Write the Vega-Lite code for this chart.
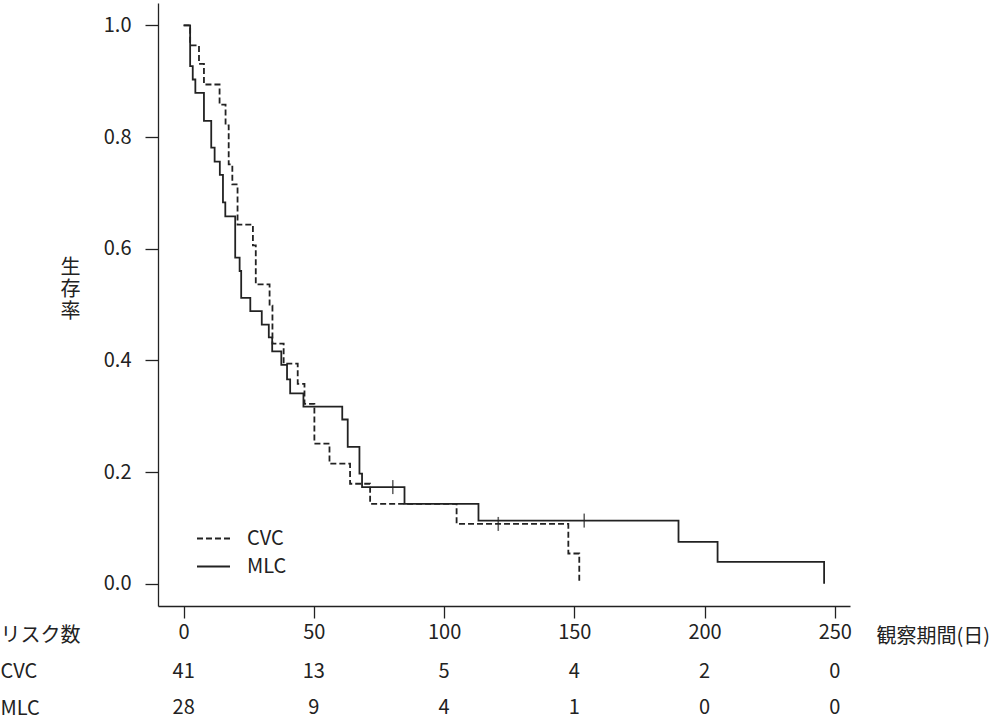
{
  "$schema": "https://vega.github.io/schema/vega-lite/v6.json",
  "width": 692,
  "height": 603,
  "autosize": "none",
  "padding": {"left": 158, "top": 3, "right": 150, "bottom": 116},
  "background": "white",
  "config": {
    "font": "Noto Sans CJK JP",
    "view": {"stroke": null},
    "axis": {
      "grid": false,
      "domainColor": "#222",
      "domainWidth": 1.3,
      "tickColor": "#222",
      "tickWidth": 1.3,
      "labelColor": "#222",
      "labelFont": "Noto Sans CJK JP",
      "labelFontSize": 20,
      "titleFont": "Noto Sans CJK JP",
      "titleFontSize": 20,
      "titleFontWeight": "normal",
      "titleColor": "#222"
    },
    "legend": {
      "orient": "none",
      "legendX": 38,
      "legendY": 518,
      "padding": 0,
      "symbolType": "stroke",
      "symbolSize": 1089,
      "symbolStrokeWidth": 2,
      "symbolStrokeColor": "#222",
      "labelFont": "Noto Sans CJK JP",
      "labelFontSize": 20,
      "labelColor": "#222",
      "labelOffset": 16,
      "rowPadding": -7
    }
  },
  "datasets": {
    "km": [
      {"group": "MLC", "time": 0, "surv": 1.0},
      {"group": "MLC", "time": 2.5, "surv": 0.927},
      {"group": "MLC", "time": 3.5, "surv": 0.903},
      {"group": "MLC", "time": 4.5, "surv": 0.879},
      {"group": "MLC", "time": 7.8, "surv": 0.829},
      {"group": "MLC", "time": 10.6, "surv": 0.781},
      {"group": "MLC", "time": 11.9, "surv": 0.756},
      {"group": "MLC", "time": 13.9, "surv": 0.732},
      {"group": "MLC", "time": 15.1, "surv": 0.683},
      {"group": "MLC", "time": 16.0, "surv": 0.658},
      {"group": "MLC", "time": 19.8, "surv": 0.584},
      {"group": "MLC", "time": 21.5, "surv": 0.560},
      {"group": "MLC", "time": 22.1, "surv": 0.512},
      {"group": "MLC", "time": 25.6, "surv": 0.488},
      {"group": "MLC", "time": 30.0, "surv": 0.464},
      {"group": "MLC", "time": 32.7, "surv": 0.441},
      {"group": "MLC", "time": 34.0, "surv": 0.416},
      {"group": "MLC", "time": 37.5, "surv": 0.392},
      {"group": "MLC", "time": 39.7, "surv": 0.366},
      {"group": "MLC", "time": 40.9, "surv": 0.341},
      {"group": "MLC", "time": 46.0, "surv": 0.317},
      {"group": "MLC", "time": 60.9, "surv": 0.294},
      {"group": "MLC", "time": 63.0, "surv": 0.245},
      {"group": "MLC", "time": 67.5, "surv": 0.197},
      {"group": "MLC", "time": 68.5, "surv": 0.173},
      {"group": "MLC", "time": 84.8, "surv": 0.143},
      {"group": "MLC", "time": 113.2, "surv": 0.113},
      {"group": "MLC", "time": 190.0, "surv": 0.075},
      {"group": "MLC", "time": 205.0, "surv": 0.039},
      {"group": "MLC", "time": 245.9, "surv": 0.0},
      {"group": "CVC", "time": 0, "surv": 1.0},
      {"group": "CVC", "time": 2.5, "surv": 0.964},
      {"group": "CVC", "time": 5.9, "surv": 0.931},
      {"group": "CVC", "time": 7.8, "surv": 0.894},
      {"group": "CVC", "time": 13.8, "surv": 0.858},
      {"group": "CVC", "time": 16.1, "surv": 0.821},
      {"group": "CVC", "time": 17.3, "surv": 0.751},
      {"group": "CVC", "time": 18.7, "surv": 0.715},
      {"group": "CVC", "time": 20.7, "surv": 0.643},
      {"group": "CVC", "time": 26.6, "surv": 0.606},
      {"group": "CVC", "time": 27.7, "surv": 0.536},
      {"group": "CVC", "time": 33.0, "surv": 0.498},
      {"group": "CVC", "time": 34.1, "surv": 0.430},
      {"group": "CVC", "time": 38.4, "surv": 0.394},
      {"group": "CVC", "time": 43.8, "surv": 0.358},
      {"group": "CVC", "time": 46.4, "surv": 0.322},
      {"group": "CVC", "time": 50.2, "surv": 0.251},
      {"group": "CVC", "time": 56.0, "surv": 0.215},
      {"group": "CVC", "time": 63.9, "surv": 0.179},
      {"group": "CVC", "time": 71.6, "surv": 0.143},
      {"group": "CVC", "time": 104.8, "surv": 0.107},
      {"group": "CVC", "time": 147.7, "surv": 0.054},
      {"group": "CVC", "time": 151.9, "surv": 0.0}
    ],
    "censor": [
      {"group": "MLC", "time": 80.3, "surv": 0.173},
      {"group": "MLC", "time": 153.8, "surv": 0.113},
      {"group": "CVC", "time": 120.8, "surv": 0.107}
    ],
    "risk": [
      {"row": "CVC", "time": 0, "n": 41},
      {"row": "CVC", "time": 50, "n": 13},
      {"row": "CVC", "time": 100, "n": 5},
      {"row": "CVC", "time": 150, "n": 4},
      {"row": "CVC", "time": 200, "n": 2},
      {"row": "CVC", "time": 250, "n": 0},
      {"row": "MLC", "time": 0, "n": 28},
      {"row": "MLC", "time": 50, "n": 9},
      {"row": "MLC", "time": 100, "n": 4},
      {"row": "MLC", "time": 150, "n": 1},
      {"row": "MLC", "time": 200, "n": 0},
      {"row": "MLC", "time": 250, "n": 0}
    ]
  },
  "layer": [
    {
      "layer": [
        {
          "data": {"name": "km"},
          "mark": {"type": "line", "interpolate": "step-after", "color": "#222", "strokeWidth": 1.8},
          "encoding": {
            "x": {
              "field": "time",
              "type": "quantitative",
              "scale": {"domain": [-9.84, 255.84], "nice": false, "zero": false},
              "axis": {
                "values": [0, 50, 100, 150, 200, 250],
                "tickSize": 12,
                "labelPadding": 4,
                "labelFlush": false,
                "title": "観察期間(日)",
                "titleAngle": 0,
                "titleAlign": "left",
                "titleBaseline": "top",
                "titleX": 718,
                "titleY": 20
              }
            },
            "y": {
              "field": "surv",
              "type": "quantitative",
              "scale": {"domain": [-0.04, 1.04], "nice": false, "zero": false},
              "axis": {
                "values": [0, 0.2, 0.4, 0.6, 0.8, 1.0],
                "format": ".1f",
                "tickSize": 13,
                "labelPadding": 14,
                "labelFlush": false,
                "title": ["生", "存", "率"],
                "titleAngle": 0,
                "titleAlign": "center",
                "titleBaseline": "middle",
                "titleLineHeight": 22,
                "titleX": -88,
                "titleY": 264
              }
            },
            "strokeDash": {
              "field": "group",
              "type": "nominal",
              "scale": {"domain": ["CVC", "MLC"], "range": [[6, 3], [1, 0]]},
              "legend": {"title": null}
            }
          }
        },
        {
          "data": {"name": "censor"},
          "mark": {"type": "tick", "orient": "vertical", "color": "#222", "size": 14, "thickness": 1.6},
          "encoding": {
            "x": {"field": "time", "type": "quantitative"},
            "y": {"field": "surv", "type": "quantitative"}
          }
        }
      ]
    },
    {
      "data": {"name": "risk"},
      "mark": {"type": "text", "fontSize": 20, "color": "#222", "baseline": "middle", "align": "center"},
      "encoding": {
        "x": {"field": "time", "type": "quantitative"},
        "y": {
          "field": "row",
          "type": "nominal",
          "scale": {"domain": ["リスク数", "CVC", "MLC"], "range": [632, 705], "padding": 0},
          "axis": {
            "orient": "left",
            "domain": false,
            "ticks": false,
            "labelAlign": "left",
            "labelBaseline": "middle",
            "labelPadding": 158,
            "title": null
          }
        },
        "text": {"field": "n", "type": "quantitative"}
      }
    }
  ],
  "resolve": {"scale": {"y": "independent"}}
}
